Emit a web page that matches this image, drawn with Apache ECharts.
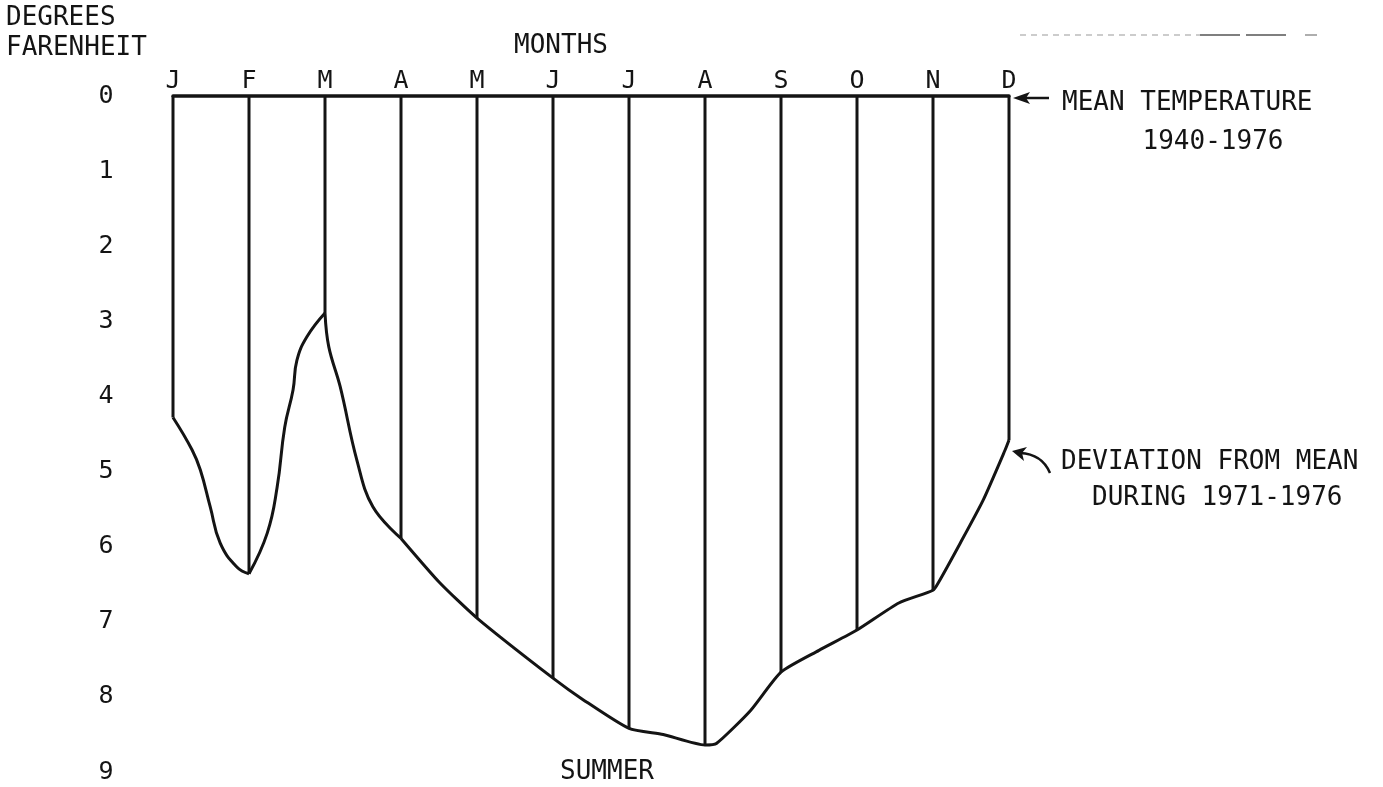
<!DOCTYPE html>
<html>
<head>
<meta charset="utf-8">
<script src="https://cdn.jsdelivr.net/npm/echarts@6/dist/echarts.min.js"></script>
<style>
  html, body { margin: 0; padding: 0; background: #fff; }
  #chart { width: 1383px; height: 787px; }
</style>
</head>
<body>
<div id="chart"></div>
<script>
// month letters along the top line
const months = ['J', 'F', 'M', 'A', 'M', 'J', 'J', 'A', 'S', 'O', 'N', 'D']
const degreeTicks = [0, 1, 2, 3, 4, 5, 6, 7, 8, 9]
// deviation (deg F below mean) at each month line
const monthDeviation = [4.28, 6.36, 2.89, 5.89, 6.95, 7.75, 8.42, 8.64, 7.67, 7.11, 6.58, 4.58]
// hand drawn curve (x = month position, 0 = Jan)
const traceMonth = [0, 0.25, 0.36, 0.49, 0.62, 0.84, 1, 1.24, 1.37, 1.47, 1.58, 1.63, 1.76, 2, 2.05, 2.2, 2.42, 2.63, 3, 3.51, 4, 5, 5.4, 6, 6.45, 7, 7.15, 7.6, 8, 8.5, 9, 9.55, 10, 10.07, 10.36, 10.66, 10.95, 11]
const traceDeviation = [4.28, 4.71, 4.98, 5.47, 5.95, 6.27, 6.36, 5.82, 5.21, 4.41, 3.91, 3.52, 3.21, 2.89, 3.34, 3.87, 4.85, 5.47, 5.89, 6.48, 6.95, 7.75, 8.04, 8.42, 8.5, 8.64, 8.62, 8.18, 7.67, 7.38, 7.11, 6.75, 6.58, 6.48, 5.95, 5.38, 4.71, 4.58]
// the pen stops (sharp corners) at these months
const cornerMonths = [0, 1, 2, 3, 11]
const cornerSmooth = [0.45, 0.45, 0.4, 0.2]

const ink = '#141414'
const font = '"DejaVu Sans Mono", "Liberation Mono", monospace'

const chart = echarts.init(document.getElementById('chart'))

const curveSeries = cornerSmooth.map((s, k) => {
    const a = cornerMonths[k], b = cornerMonths[k + 1]
    return {
        type: 'line',
        silent: true,
        smooth: s,
        symbol: 'none',
        lineStyle: { color: ink, width: 3 },
        data: traceMonth.map((m, i) => [m, traceDeviation[i]]).filter(p => p[0] >= a && p[0] <= b)
    }
})

chart.setOption({
    backgroundColor: '#fff',
    animation: false,
    grid: { left: 173, right: 374, top: 96, bottom: 15 },
    xAxis: {
        type: 'value',
        position: 'top',
        min: 0,
        max: months.length - 1,
        interval: 1,
        axisLine: { show: true, onZero: false, lineStyle: { color: ink, width: 3.5 } },
        axisTick: { show: false },
        splitLine: { show: false },
        axisLabel: {
            margin: 2,
            color: ink,
            fontFamily: font,
            fontSize: 25,
            formatter: v => months[v] || ''
        }
    },
    yAxis: {
        type: 'value',
        inverse: true,
        min: degreeTicks[0],
        max: degreeTicks[degreeTicks.length - 1],
        interval: 1,
        axisLine: { show: false },
        axisTick: { show: false },
        splitLine: { show: false },
        axisLabel: {
            margin: 67,
            align: 'center',
            color: ink,
            fontFamily: font,
            fontSize: 25
        }
    },
    series: [
        {
            // vertical month lines hanging from the mean line
            type: 'bar',
            clip: false,
            silent: true,
            barWidth: 3,
            itemStyle: { color: ink },
            data: monthDeviation.map((v, i) => [i, v])
        }
    ].concat(curveSeries)
})

// arrows are placed from the data end points
const meanEnd = chart.convertToPixel({ gridIndex: 0 }, [11, 0])
const devEnd = chart.convertToPixel({ gridIndex: 0 }, [11, monthDeviation[11]])
const mx = meanEnd[0], my = meanEnd[1] + 2
const dx = devEnd[0] + 3, dy = devEnd[1] + 11

const txt = (text, x, y, align) => ({
    type: 'text',
    x: x,
    y: y,
    silent: true,
    style: {
        text: text,
        fill: ink,
        fontFamily: font,
        fontSize: 26,
        textAlign: align || 'left',
        textVerticalAlign: 'middle'
    }
})

chart.setOption({
    graphic: [
        txt('DEGREES', 6, 18),
        txt('FARENHEIT', 6, 48),
        txt('MONTHS', 561, 46, 'center'),
        txt('MEAN TEMPERATURE', 1062, 103),
        txt('1940-1976', 1213, 142, 'center'),
        txt('DEVIATION FROM MEAN', 1061, 462),
        txt('DURING 1971-1976', 1092, 498),
        txt('SUMMER', 607, 772, 'center'),
        // mean temperature arrow
        {
            type: 'line', silent: true,
            shape: { x1: mx + 15, y1: my, x2: mx + 40, y2: my },
            style: { stroke: ink, lineWidth: 2.5 }
        },
        {
            type: 'polygon', silent: true,
            shape: { points: [[mx + 4, my], [mx + 21, my - 6], [mx + 17, my], [mx + 21, my + 6]] },
            style: { fill: ink }
        },
        // deviation arrow, curved
        {
            type: 'bezierCurve', silent: true,
            shape: { x1: dx + 8, y1: dy + 2, x2: dx + 38, y2: dy + 22, cpx1: dx + 30, cpy1: dy + 3 },
            style: { stroke: ink, lineWidth: 2.5, fill: null }
        },
        {
            type: 'polygon', silent: true,
            shape: { points: [[dx, dy], [dx + 15, dy - 4], [dx + 10, dy + 2], [dx + 12, dy + 10]] },
            style: { fill: ink }
        },
        // scanner streak at the top right
        {
            type: 'line', silent: true,
            shape: { x1: 1020, y1: 35, x2: 1200, y2: 35 },
            style: { stroke: '#9a9a9a', lineWidth: 1.2, lineDash: [6, 5] }
        },
        {
            type: 'line', silent: true,
            shape: { x1: 1200, y1: 35, x2: 1290, y2: 35 },
            style: { stroke: '#555', lineWidth: 1.5, lineDash: [40, 6] }
        },
        {
            type: 'line', silent: true,
            shape: { x1: 1305, y1: 35, x2: 1317, y2: 35 },
            style: { stroke: '#777', lineWidth: 1.2 }
        }
    ]
})

window.onresize = chart.resize
</script>
</body>
</html>
